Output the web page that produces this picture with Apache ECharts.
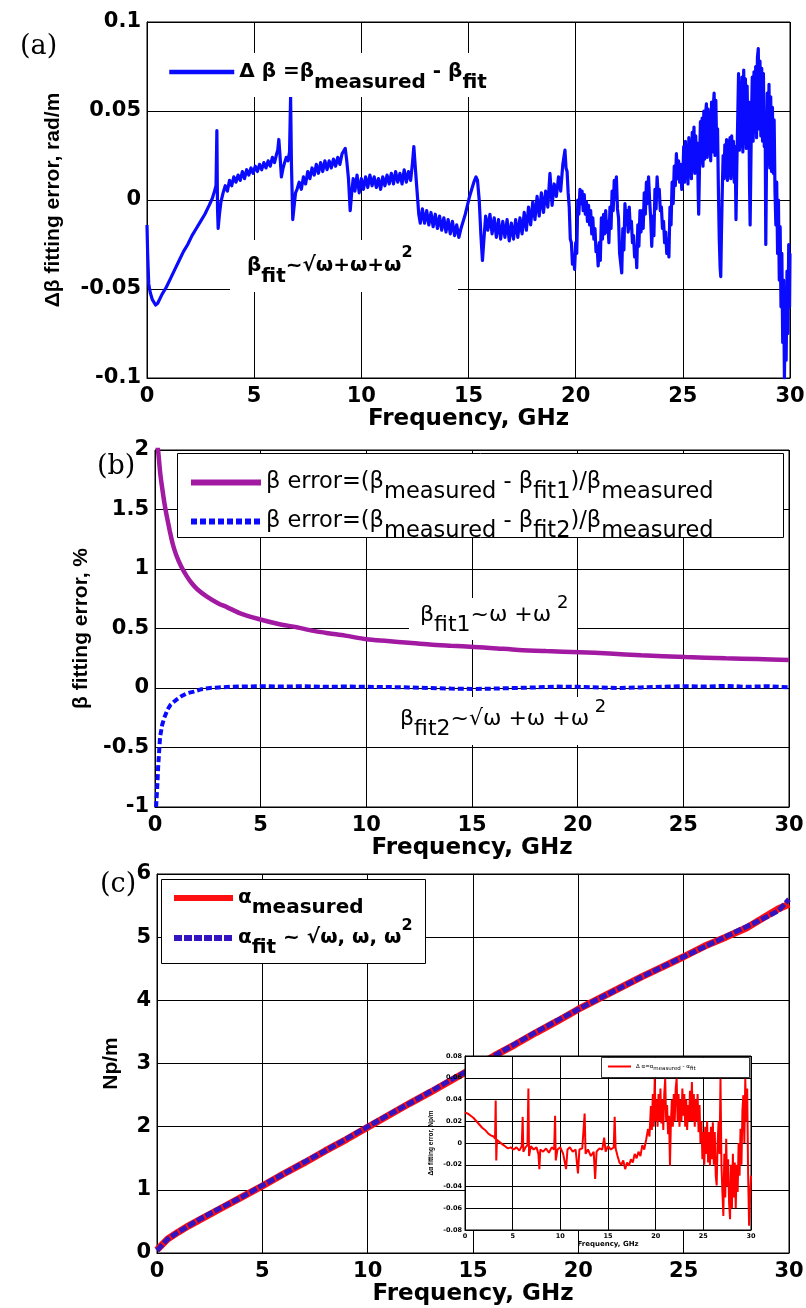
<!DOCTYPE html>
<html><head><meta charset="utf-8">
<script src="https://cdn.jsdelivr.net/npm/echarts@6/dist/echarts.min.js"></script>
<style>html,body{margin:0;padding:0;background:#fff}#c{width:806px;height:1308px}</style>
</head><body><div id="c"></div>
<script>
// ---------- DATA ----------
const freqTicks = [0, 5, 10, 15, 20, 25, 30];
// (a) delta beta = beta_measured - beta_fit  [GHz, rad/m]
const deltaBeta = [
[0,-0.014],[0.03,-0.03],[0.08,-0.047],[0.15,-0.052],[0.25,-0.056],[0.4,-0.059],[0.5,-0.058],[0.7,-0.053],[0.9,-0.049],[1.1,-0.044],[1.3,-0.039],[1.5,-0.034],[1.7,-0.029],[1.9,-0.025],[2.1,-0.02],[2.3,-0.016],[2.5,-0.012],[2.7,-0.008],[2.9,-0.003],[3.05,0.001],[3.15,0.005],[3.22,0.008],[3.26,0.039],[3.29,-0.005],[3.32,-0.016],[3.38,-0.008],[3.45,-0.001],[3.55,0.004],[3.65,0.008],[3.75,0.005],[3.85,0.011],[3.95,0.008],[4.05,0.013],[4.15,0.01],[4.25,0.014],[4.35,0.011],[4.45,0.016],[4.55,0.012],[4.65,0.017],[4.75,0.014],[4.85,0.018],[4.95,0.015],[5.05,0.019],[5.15,0.016],[5.25,0.02],[5.35,0.017],[5.45,0.021],[5.55,0.018],[5.65,0.022],[5.75,0.019],[5.85,0.024],[5.95,0.021],[6.05,0.026],[6.1,0.028],[6.15,0.034],[6.2,0.026],[6.27,0.013],[6.35,0.018],[6.42,0.021],[6.5,0.024],[6.58,0.022],[6.65,0.027],[6.7,0.058],[6.74,0.02],[6.8,-0.011],[6.86,-0.004],[6.93,0.004],
[7.0,0.006],[7.1,0.01],[7.2,0.006],[7.3,0.013],[7.4,0.009],[7.5,0.016],[7.6,0.012],[7.7,0.018],[7.8,0.014],[7.9,0.02],[8.0,0.015],[8.1,0.021],[8.2,0.016],[8.3,0.022],[8.4,0.017],[8.5,0.022],[8.6,0.018],[8.7,0.023],[8.8,0.019],[8.9,0.024],[9.0,0.02],[9.1,0.026],[9.18,0.027],[9.25,0.029],[9.32,0.022],[9.4,0.012],[9.48,-0.006],[9.55,0.004],[9.62,0.012],[9.7,0.005],[9.8,0.014],[9.9,0.004],[10.0,0.012],[10.1,0.006],[10.2,0.013],[10.3,0.007],[10.4,0.014],[10.5,0.008],[10.6,0.013],[10.7,0.007],[10.8,0.012],[10.9,0.006],[11.0,0.013],[11.1,0.008],[11.2,0.014],[11.3,0.009],[11.4,0.015],[11.5,0.009],[11.6,0.016],[11.7,0.01],[11.8,0.015],[11.9,0.009],[12.0,0.017],[12.1,0.01],[12.2,0.016],[12.3,0.011],[12.38,0.02],[12.45,0.03],[12.52,0.018],[12.6,0.005],[12.68,-0.008],[12.75,-0.013],[12.85,-0.005],[12.95,-0.013],[13.05,-0.006],[13.15,-0.014],[13.25,-0.007],[13.35,-0.015],[13.45,-0.008],[13.55,-0.016],[13.65,-0.009],[13.75,-0.017],[13.85,-0.01],[13.95,-0.018],[14.05,-0.011],[14.15,-0.019],[14.25,-0.012],[14.35,-0.02],[14.45,-0.014],[14.55,-0.021],[14.65,-0.016],[14.75,-0.012],[14.85,-0.008],[14.95,-0.003],[15.05,0.002],[15.15,0.006],[15.25,0.01],[15.35,0.013],[15.42,0.011],[15.5,0.0],[15.58,-0.02],[15.65,-0.034],[15.72,-0.022],[15.8,-0.009],[15.9,-0.017],[16.0,-0.008],[16.1,-0.019],[16.2,-0.01],[16.3,-0.021],[16.4,-0.011],[16.5,-0.022],[16.6,-0.012],[16.7,-0.021],[16.8,-0.011],[16.9,-0.023],[17.0,-0.013],[17.1,-0.022],[17.2,-0.011],[17.3,-0.021],[17.4,-0.01],[17.5,-0.019],[17.6,-0.007],[17.7,-0.017],[17.8,-0.004],[17.9,-0.014],[18.0,-0.001],[18.1,-0.011],[18.2,0.002],[18.3,-0.009],[18.4,0.004],[18.5,-0.007],[18.6,0.005],[18.7,-0.004],[18.8,0.015],[18.9,-0.003],[19.0,0.009],[19.1,0.002],[19.2,0.013],[19.3,0.005],[19.4,0.02],
[19.5,0.028],[19.55,0.018],[19.6,0.016],[19.65,0.004],[19.7,-0.004],[19.75,-0.022],[19.8,-0.024],[19.85,-0.036],[19.9,-0.031],[19.95,-0.039],[20.0,-0.024],[20.05,-0.03],[20.1,0.0],[20.15,-0.008],[20.2,0.006],[20.25,-0.002],[20.3,0.005],[20.35,-0.006],[20.4,0.003],[20.45,-0.008],[20.5,-0.001],[20.55,-0.012],[20.6,-0.003],[20.65,-0.014],[20.7,-0.006],[20.75,-0.019],[20.8,-0.01],[20.85,-0.022],[20.9,-0.016],[20.95,-0.029],[21.0,-0.026],[21.05,-0.037],[21.1,-0.024],[21.15,-0.034],[21.2,-0.01],[21.25,-0.022],[21.3,-0.008],[21.35,-0.019],[21.4,-0.006],[21.45,-0.018],[21.5,-0.012],[21.55,-0.024],[21.6,-0.004],[21.65,-0.016],[21.7,0.005],[21.75,-0.006],[21.8,0.011],[21.85,0.001],[21.9,0.013],[21.95,-0.005],[22.0,-0.01],[22.05,-0.03],[22.1,-0.029],[22.15,-0.041],[22.2,-0.016],[22.25,-0.028],[22.3,-0.002],[22.35,-0.014],[22.4,-0.006],[22.45,-0.018],[22.5,-0.004],[22.55,-0.016],[22.6,-0.012],[22.65,-0.024],[22.7,-0.02],[22.75,-0.032],[22.8,-0.026],[22.85,-0.038],[22.9,-0.014],[22.95,-0.026],[23.0,-0.006],[23.05,-0.018],[23.1,-0.006],[23.15,-0.016],[23.2,0.004],[23.25,-0.008],[23.3,0.01],[23.35,-0.002],[23.4,0.013],[23.45,0.0],[23.5,-0.01],[23.55,-0.026],[23.6,-0.009],[23.65,-0.02],[23.7,0.006],[23.75,-0.005],[23.8,0.013],[23.85,0.002],[23.9,0.006],[23.95,-0.006],[24.0,-0.004],[24.05,-0.016],[24.1,-0.012],[24.15,-0.024],[24.2,-0.018],[24.25,-0.03],[24.3,-0.022],[24.35,-0.032],[24.4,-0.004],[24.45,-0.014],[24.5,0.01],[24.55,-0.002],[24.6,0.019],[24.65,0.008],[24.7,0.026],[24.75,0.012],[24.8,0.022],[24.85,0.01],[24.9,0.02],[24.95,0.006],
[25.0,0.012],[25.04,0.03],[25.08,0.01],[25.12,0.033],[25.16,0.014],[25.2,0.028],[25.24,0.009],[25.28,0.035],[25.32,0.016],[25.36,0.031],[25.4,0.012],[25.44,0.038],[25.48,0.018],[25.52,0.041],[25.56,0.015],[25.6,0.036],[25.64,0.017],[25.68,0.032],[25.72,0.002],[25.74,-0.008],[25.78,0.02],[25.82,0.044],[25.86,0.021],[25.9,0.046],[25.94,0.019],[25.98,0.05],[26.02,0.023],[26.06,0.048],[26.1,0.054],[26.14,0.024],[26.18,0.051],[26.22,0.026],[26.26,0.049],[26.3,0.022],[26.34,0.055],[26.38,0.027],[26.42,0.052],[26.46,0.06],[26.5,0.025],[26.54,0.056],[26.58,0.028],[26.62,0.04],[26.66,0.005],[26.7,-0.022],[26.74,-0.038],[26.77,-0.043],[26.8,-0.02],[26.84,0.005],[26.88,0.025],[26.92,0.012],[26.96,0.031],[27.0,0.013],[27.04,0.034],[27.08,0.011],[27.12,0.033],[27.16,0.014],[27.2,0.035],[27.24,0.012],[27.28,0.036],[27.32,0.015],[27.36,0.033],[27.4,0.01],[27.44,0.03],[27.48,-0.011],[27.52,0.02],[27.56,0.045],[27.6,0.071],[27.64,0.028],[27.68,0.066],[27.72,0.03],[27.76,0.069],[27.8,0.027],[27.84,0.073],[27.88,0.032],[27.92,0.068],[27.96,0.029],[28.0,0.064],[28.04,0.03],[28.08,0.055],[28.11,0.01],[28.14,-0.014],[28.17,0.015],[28.2,0.045],[28.24,0.069],[28.28,0.033],[28.32,0.072],[28.36,0.038],[28.4,0.075],[28.44,0.035],[28.48,0.08],[28.52,0.085],[28.56,0.04],[28.6,0.078],[28.64,0.036],[28.68,0.074],[28.72,0.033],[28.76,0.071],[28.8,0.03],[28.84,0.045],[28.87,-0.025],[28.9,0.015],[28.94,0.06],[28.98,0.02],[29.02,0.065],[29.06,0.018],[29.1,0.058],[29.14,0.016],[29.18,0.052],[29.22,0.015],[29.26,0.045],[29.3,0.005],[29.34,-0.014],[29.38,0.01],[29.42,-0.03],[29.46,0.0],[29.5,-0.045],[29.54,-0.015],[29.58,-0.06],[29.62,-0.03],[29.66,-0.08],[29.7,-0.045],[29.74,-0.1],[29.78,-0.06],[29.82,-0.09],[29.86,-0.04],[29.9,-0.075],[29.94,-0.025],[29.98,-0.06],[30.0,-0.03]
];
// (b) beta fitting error, %
const betaErrFit1 = [[0.1,2.05],[0.15,1.99],[0.25,1.8],[0.34,1.68],[0.45,1.55],[0.54,1.46],[0.7,1.32],[0.84,1.21],[1.0,1.12],[1.24,1.02],[1.5,0.94],[1.74,0.88],[2.0,0.83],[2.44,0.77],[3.0,0.71],[3.4,0.68],[4.0,0.63],[4.9,0.58],[5.8,0.54],[6.7,0.51],[7.5,0.48],[8.2,0.46],[9.0,0.44],[10,0.41],[11,0.395],[12,0.38],[13,0.365],[14,0.355],[15.1,0.345],[16,0.335],[17.2,0.32],[18.5,0.31],[20.1,0.3],[21.5,0.29],[23,0.275],[25.1,0.26],[27,0.25],[28.5,0.243],[30,0.235]];
const betaErrFit2 = [[0.05,-1.0],[0.1,-0.85],[0.15,-0.66],[0.24,-0.41],[0.34,-0.31],[0.44,-0.25],[0.6,-0.18],[0.74,-0.14],[1.0,-0.1],[1.24,-0.07],[1.5,-0.045],[1.84,-0.03],[2.2,-0.01],[2.6,0.0],[3.0,0.005],[3.6,0.01],[4,0.012],[5,0.015],[6,0.012],[7,0.015],[8,0.01],[9,0.012],[10,0.01],[11,0.008],[12,0.005],[13,0.0],[14,-0.005],[15,-0.008],[16,-0.005],[17,0.0],[18,0.005],[19,0.012],[20,0.01],[21,0.005],[22,0.0],[23,0.005],[24,0.01],[25,0.015],[26,0.012],[27,0.018],[28,0.01],[29,0.015],[30,0.005]];
// (c) attenuation, Np/m
const alphaFreq = [0,0.5,1,1.5,2,3,4,5,6,7,8,9,10,11,12,13,14,15,16,17,18,19,20,21,22,23,24,25,26,27,28,29,29.5,30];
const alphaMeasured = [0.05,0.22,0.33,0.43,0.52,0.7,0.88,1.06,1.25,1.43,1.62,1.8,1.99,2.18,2.37,2.55,2.74,2.93,3.12,3.3,3.49,3.67,3.86,4.03,4.2,4.37,4.53,4.69,4.86,5.0,5.15,5.35,5.45,5.52];
const alphaFit = [0.04,0.22,0.33,0.43,0.53,0.71,0.88,1.07,1.25,1.44,1.62,1.81,2.0,2.19,2.37,2.56,2.75,2.93,3.12,3.31,3.5,3.68,3.86,4.03,4.2,4.37,4.53,4.69,4.85,5.01,5.17,5.33,5.42,5.6];
// (c) inset: delta alpha fitting error, Np/m
const deltaAlpha = [
[0,0.028],[0.3,0.027],[0.6,0.025],[0.9,0.023],[1.2,0.02],[1.5,0.017],[1.8,0.014],[2.1,0.012],[2.4,0.009],[2.7,0.007],[3.0,0.006],[3.15,0.004],[3.22,0.039],[3.28,-0.016],[3.35,0.003],[3.6,0.001],[3.9,-0.001],[4.2,-0.003],[4.5,-0.005],[4.8,-0.004],[5.1,-0.006],[5.4,-0.004],[5.7,-0.007],[5.95,-0.003],[6.05,0.024],[6.12,-0.008],[6.35,-0.004],[6.55,-0.002],[6.65,0.05],[6.72,-0.012],[6.9,-0.003],[7.2,-0.006],[7.5,-0.004],[7.7,-0.01],[7.8,-0.024],[7.9,-0.006],[8.2,-0.008],[8.5,-0.005],[8.8,-0.009],[9.1,-0.004],[9.35,-0.006],[9.45,0.025],[9.52,-0.016],[9.7,-0.006],[10.0,-0.004],[10.3,-0.01],[10.6,-0.024],[10.75,-0.006],[11.0,-0.004],[11.3,-0.008],[11.6,-0.006],[11.85,-0.028],[12.0,-0.006],[12.3,-0.005],[12.55,0.027],[12.65,-0.01],[12.9,-0.006],[13.2,-0.012],[13.5,-0.008],[13.65,-0.033],[13.8,-0.008],[14.1,-0.005],[14.4,-0.006],[14.6,0.005],[14.75,-0.008],[15.0,-0.003],[15.3,-0.006],[15.6,-0.004],[15.7,0.024],[15.8,-0.005],[16.0,-0.012],[16.2,-0.018],[16.4,-0.02],[16.6,-0.016],[16.8,-0.024],[17.0,-0.018],[17.2,-0.021],[17.4,-0.015],[17.6,-0.018],[17.8,-0.01],[18.0,-0.014],[18.2,-0.008],[18.4,-0.012],[18.6,-0.002],[18.8,-0.006],[19.0,0.003],[19.2,0.013],[19.35,0.006],[19.5,0.034],[19.6,0.012],[19.7,0.045],[19.8,0.015],[19.9,0.059],[20.0,0.02],[20.1,0.04],[20.2,0.015],[20.3,0.045],[20.4,0.02],[20.5,0.05],[20.6,0.018],[20.7,0.04],[20.8,0.012],[20.9,0.045],[21.0,0.059],[21.1,0.02],[21.2,0.035],[21.3,0.008],[21.4,0.025],[21.5,-0.021],[21.6,0.02],[21.7,0.04],[21.8,0.015],[21.9,0.045],[22.0,0.02],[22.1,0.05],[22.2,0.059],[22.3,0.02],[22.4,0.045],[22.5,0.015],[22.6,0.04],[22.7,0.02],[22.8,0.05],[22.9,0.025],[23.0,0.045],[23.1,0.015],[23.2,0.04],[23.3,0.012],[23.4,0.035],[23.5,0.02],[23.6,0.048],[23.7,0.02],[23.8,0.056],[23.9,0.02],[24.0,0.045],[24.1,0.015],[24.2,0.04],[24.3,0.02],[24.4,0.045],[24.5,0.01],[24.6,0.035],[24.7,0.0],[24.8,0.02],[24.9,-0.015],[25.0,0.01],[25.1,-0.02],[25.2,0.015],[25.3,-0.01],[25.4,0.02],[25.5,-0.018],[25.6,0.01],[25.7,-0.021],[25.8,0.015],[25.9,-0.015],[26.0,0.019],[26.1,-0.02],[26.2,0.01],[26.3,-0.03],[26.4,-0.039],[26.5,0.0],[26.6,0.02],[26.7,-0.01],[26.8,0.059],[26.9,-0.02],[27.0,-0.045],[27.1,-0.067],[27.2,-0.01],[27.3,-0.05],[27.4,0.004],[27.5,-0.04],[27.6,-0.015],[27.7,-0.055],[27.8,-0.07],[27.9,-0.02],[28.0,-0.06],[28.1,-0.01],[28.2,-0.05],[28.3,-0.018],[28.4,-0.06],[28.5,-0.02],[28.6,-0.045],[28.7,0.0],[28.8,-0.03],[28.9,0.013],[29.0,-0.02],[29.1,0.03],[29.2,0.044],[29.3,0.0],[29.4,0.059],[29.5,0.02],[29.6,0.05],[29.7,-0.03],[29.8,-0.076],[29.9,-0.05],[30.0,-0.03]
];

// ---------- STYLE HELPERS ----------
const HFONT = 'DejaVu Sans';
const VFONT = 'Liberation Sans';
function rich(fs, fw, off, ff) {
  ff = ff || HFONT;
  const b = {fontSize: fs, fontWeight: fw, fontFamily: ff, color: '#000', fill: '#000', lineHeight: fs, verticalAlign: 'middle'};
  const ps = Math.round(fs * 0.8);
  return {
    m: Object.assign({}, b, {padding: [off, 0, off, 0]}),
    s: Object.assign({}, b, {padding: [2 * off, 0, 0, 0]}),
    p: Object.assign({}, b, {fontSize: ps, lineHeight: ps, padding: [0, 0, 2 * off + fs - ps, 0]})
  };
}
const tickFont = {color: '#000', fontFamily: HFONT, fontWeight: 'bold', fontSize: 21};
const nameFont = {color: '#000', fontFamily: HFONT, fontWeight: 'bold', fontSize: 23};
function xAx(gi, nameGap, opt) {
  return Object.assign({
    type: 'value', gridIndex: gi, min: 0, max: 30, interval: 5,
    axisLine: {show: true, onZero: false, lineStyle: {color: '#000', width: 1}},
    axisTick: {show: false},
    splitLine: {show: true, lineStyle: {color: '#000', width: 1}},
    axisLabel: Object.assign({margin: 8}, tickFont),
    name: 'Frequency, GHz', nameLocation: 'middle', nameGap: nameGap,
    nameTextStyle: Object.assign({}, nameFont)
  }, opt || {});
}
function yAx(gi, min, max, interval, name, nameGap, opt) {
  return Object.assign({
    type: 'value', gridIndex: gi, min: min, max: max, interval: interval,
    axisLine: {show: true, onZero: false, lineStyle: {color: '#000', width: 1}},
    axisTick: {show: false},
    splitLine: {show: true, lineStyle: {color: '#000', width: 1}},
    axisLabel: Object.assign({margin: 6}, tickFont),
    name: name, nameLocation: 'middle', nameGap: nameGap, nameRotate: 90,
    nameTextStyle: {color: '#000', fontFamily: VFONT, fontWeight: 'bold', fontSize: 21}
  }, opt || {});
}
const gridBase = {show: true, borderColor: '#000', borderWidth: 1, backgroundColor: 'transparent', containLabel: false, outerBoundsMode: 'none'};

const richA = rich(20, 'bold', 11);
const richB = rich(22, 'normal', 10);
const richBL = rich(22.5, 'normal', 10);
const richC = rich(20, 'bold', 10);
const richI = rich(5.5, 'normal', 2.5);
const noSymbol = {opacity: 0};

const option = {
  animation: false,
  backgroundColor: '#fff',
  grid: [
    Object.assign({left: 147, top: 22, width: 643, height: 356}, gridBase),
    Object.assign({left: 155, top: 450, width: 634, height: 357}, gridBase),
    Object.assign({left: 157, top: 874, width: 632, height: 379}, gridBase),
    Object.assign({left: 465, top: 1056, width: 286, height: 174, z: 10}, gridBase, {backgroundColor: '#fff'})
  ],
  xAxis: [
    xAx(0, 21),
    xAx(1, 20),
    xAx(2, 27),
    xAx(3, 11, {z: 11,
      axisLabel: {color: '#000', fontFamily: HFONT, fontWeight: 'bold', fontSize: 6.5, margin: 3},
      nameTextStyle: {color: '#000', fontFamily: HFONT, fontWeight: 'bold', fontSize: 7},
      splitLine: {show: true, lineStyle: {color: '#000', width: 1}}})
  ],
  yAxis: [
    yAx(0, -0.1, 0.1, 0.05, 'Δβ fitting error, rad/m', 83),
    yAx(1, -1, 2, 0.5, 'β fitting error, %', 58),
    yAx(2, 0, 6, 1, 'Np/m', 35),
    yAx(3, -0.08, 0.08, 0.02, 'Δα fitting error, Np/m', 30, {z: 11,
      axisLabel: {color: '#000', fontFamily: HFONT, fontWeight: 'bold', fontSize: 6.5, margin: 3},
      nameTextStyle: {color: '#000', fontFamily: VFONT, fontWeight: 'bold', fontSize: 6.5}})
  ],
  legend: [
    {show: true, selectedMode: false, data: ['dBeta'], left: 167, top: 51, padding: 0, orient: 'vertical',
     itemWidth: 65, itemHeight: 8, z: 6, itemStyle: noSymbol, lineStyle: {width: 4.5},
     formatter: () => '{m|Δ β =β}{s|measured}{m| - β}{s|fit}',
     textStyle: {rich: richA}},
    {show: true, selectedMode: false, data: ['errFit1', 'errFit2'], left: 188, top: 461, padding: 0, orient: 'vertical',
     itemWidth: 70, itemHeight: 8, itemGap: -4, z: 6, itemStyle: noSymbol, lineStyle: {width: 6},
     formatter: n => n === 'errFit1' ? '{m|β error=(β}{s|measured}{m| - β}{s|fit1}{m|)/β}{s|measured}'
                                     : '{m|β error=(β}{s|measured}{m| - β}{s|fit2}{m|)/β}{s|measured}',
     textStyle: {rich: richBL}},
    {show: true, selectedMode: false, data: ['alphaMeas', 'alphaFit'], left: 171, top: 878, padding: 0, orient: 'vertical',
     itemWidth: 59, itemHeight: 8, itemGap: 0, z: 6, itemStyle: noSymbol, lineStyle: {width: 6},
     formatter: n => n === 'alphaMeas' ? '{m|α}{s|measured}' : '{m|α}{s|fit}{m| ~ √ω, ω, ω}{p|2}',
     textStyle: {rich: richC}},
    {show: true, selectedMode: false, data: ['dAlpha'], left: 607, top: 1061, padding: 0, orient: 'vertical',
     itemWidth: 23, itemHeight: 4, z: 16, itemStyle: noSymbol,
     formatter: () => '{m|Δ α=α}{s|measured}{m| - α}{s|fit}',
     textStyle: {rich: richI}}
  ],
  series: [
    {name: 'dBeta', type: 'line', xAxisIndex: 0, yAxisIndex: 0, data: deltaBeta, symbol: 'none',
     lineStyle: {color: '#0a0aff', width: 3.2, join: 'round'}, itemStyle: {color: '#0a0aff'}, z: 2},
    {name: 'errFit1', type: 'line', xAxisIndex: 1, yAxisIndex: 1, data: betaErrFit1, symbol: 'none', smooth: 0.3,
     lineStyle: {color: '#a21aa2', width: 4.5}, itemStyle: {color: '#a21aa2'}, z: 2},
    {name: 'errFit2', type: 'line', xAxisIndex: 1, yAxisIndex: 1, data: betaErrFit2, symbol: 'none',
     lineStyle: {color: '#0a0aff', width: 4, type: [6, 3]}, itemStyle: {color: '#0a0aff'}, z: 3},
    {name: 'alphaMeas', type: 'line', xAxisIndex: 2, yAxisIndex: 2, data: alphaFreq.map((f, i) => [f, alphaMeasured[i]]), symbol: 'none',
     lineStyle: {color: '#ff1010', width: 7}, itemStyle: {color: '#ff1010'}, z: 2},
    {name: 'alphaFit', type: 'line', xAxisIndex: 2, yAxisIndex: 2, data: alphaFreq.map((f, i) => [f, alphaFit[i]]), symbol: 'none',
     lineStyle: {color: '#3414c0', width: 5, type: [8, 2]}, itemStyle: {color: '#3414c0'}, z: 3},
    {name: 'dAlpha', type: 'line', xAxisIndex: 3, yAxisIndex: 3, data: deltaAlpha, symbol: 'none',
     lineStyle: {color: '#ff0000', width: 2}, itemStyle: {color: '#ff0000'}, z: 12}
  ],
  graphic: [
    {type: 'rect', z: 5, shape: {x: 150, y: 53, width: 345, height: 44}, style: {fill: '#fff'}},
    {type: 'rect', z: 5, shape: {x: 230, y: 240, width: 228, height: 52}, style: {fill: '#fff'}},
    {type: 'text', z: 6, x: 247, y: 266, style: {text: '{m|β}{s|fit}{m|~√ω+ω+ω}{p|2}', rich: richA, align: 'left', verticalAlign: 'middle', textAlign: 'left', textVerticalAlign: 'middle'}},
    {type: 'rect', z: 5, shape: {x: 177.5, y: 453.5, width: 606, height: 84}, style: {fill: '#fff', stroke: '#000', lineWidth: 1}},
    {type: 'rect', z: 5, shape: {x: 409, y: 598, width: 168, height: 42}, style: {fill: '#fff'}},
    {type: 'text', z: 6, x: 420, y: 615, style: {text: '{m|β}{s|fit1}{m|~ω +ω}{p| 2}', rich: richB, align: 'left', verticalAlign: 'middle', textAlign: 'left', textVerticalAlign: 'middle'}},
    {type: 'rect', z: 5, shape: {x: 398, y: 697, width: 222, height: 48}, style: {fill: '#fff'}},
    {type: 'text', z: 6, x: 400, y: 719, style: {text: '{m|β}{s|fit2}{m|~√ω +ω +ω}{p| 2}', rich: richB, align: 'left', verticalAlign: 'middle', textAlign: 'left', textVerticalAlign: 'middle'}},
    {type: 'rect', z: 5, shape: {x: 161.5, y: 879.5, width: 264, height: 84}, style: {fill: '#fff', stroke: '#000', lineWidth: 1}},
    {type: 'rect', z: 15, shape: {x: 601.5, y: 1057.5, width: 148, height: 20}, style: {fill: '#fff', stroke: '#000', lineWidth: 0.8}},
    {type: 'text', z: 6, x: 20, y: 47, style: {text: '(a)', font: '27px "DejaVu Serif"', fill: '#000', verticalAlign: 'middle', textVerticalAlign: 'middle'}},
    {type: 'text', z: 6, x: 97, y: 467, style: {text: '(b)', font: '27px "DejaVu Serif"', fill: '#000', verticalAlign: 'middle', textVerticalAlign: 'middle'}},
    {type: 'text', z: 6, x: 100, y: 885, style: {text: '(c)', font: '27px "DejaVu Serif"', fill: '#000', verticalAlign: 'middle', textVerticalAlign: 'middle'}}
  ]
};
const chart = echarts.init(document.getElementById('c'), null, {renderer: 'canvas', width: 806, height: 1308});
chart.setOption(option);
</script>
</body></html>
